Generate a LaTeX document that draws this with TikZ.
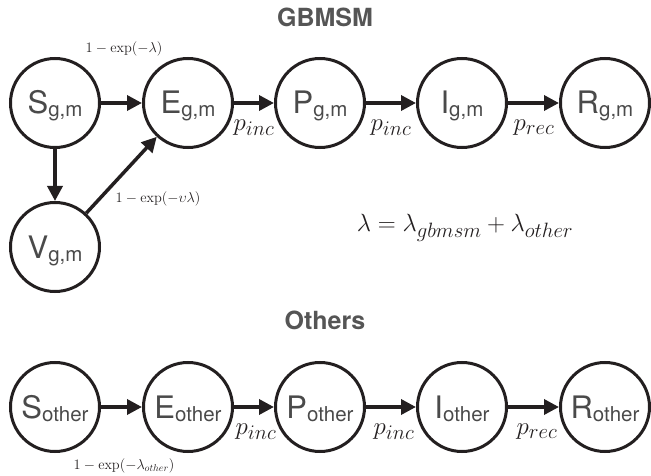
\documentclass[tikz,border=0pt]{standalone}
\usepackage{fontspec}
\newfontfamily\heros{TeX Gyre Heros}
\usetikzlibrary{arrows.meta}
\definecolor{ink}{HTML}{231F20}
\definecolor{txt}{HTML}{4A4A4A}
\definecolor{ttl}{HTML}{555555}
\newcommand{\comp}[2]{{\heros\fontsize{31}{31}\selectfont #1\raisebox{-3pt}{\fontsize{20.5}{20.5}\selectfont #2}}}
\begin{document}
\begin{tikzpicture}[x=1pt,y=-1pt,
 state/.style={circle,draw=ink,line width=3pt,minimum size=89pt,inner sep=0pt,text=txt,text height=22pt,text depth=0pt},
 flow/.style={draw=ink,line width=3.5pt,-{Triangle[length=15pt,width=15pt]}},
 small/.style={font=\fontsize{14.4}{15}\selectfont,text=ink,inner sep=0pt},
 big/.style={font=\fontsize{24.88}{25}\selectfont,text=ink,inner sep=0pt},
 title/.style={font=\heros\bfseries\fontsize{25}{25}\selectfont,text=ttl,inner sep=0pt}]
\useasboundingbox (0,0) rectangle (651,476);
% titles
\node[title] (t1) at (325,17) {GBMSM};
\node[title] (t2) at (325,320) {Others};
% top row
\node[state] (S) at (55,103) {\comp{S}{g,m}};
\node[state] (E) at (188,103) {\comp{E}{g,m}};
\node[state] (P) at (320,103) {\comp{P}{g,m}};
\node[state] (I) at (462,103) {\comp{I}{g,m}};
\node[state] (R) at (605,103) {\comp{R}{g,m}};
\node[state] (V) at (55,247) {\comp{V}{g,m}};
\draw[flow] (S) -- (E);
\draw[flow] (E) -- (P);
\draw[flow] (P) -- (I);
\draw[flow] (I) -- (R);
\draw[flow] (S) -- (V);
\draw[flow] (V) -- (E);
\node[small] (l1) at (124,49) {$1-\exp(-\lambda)$};
\node[small] (l2) at (158,199) {$1-\exp(-\upsilon\lambda)$};
\node[big] (l3) at (254,128) {$p_{inc}$};
\node[big] (l4) at (391,128) {$p_{inc}$};
\node[big] (l5) at (534,128) {$p_{rec}$};
\node[big] (eq) at (465,228) {$\lambda=\lambda_{gbmsm}+\lambda_{other}$};
% bottom row
\node[state] (So) at (55,407) {\comp{S}{other}};
\node[state] (Eo) at (188,407) {\comp{E}{other}};
\node[state] (Po) at (320,407) {\comp{P}{other}};
\node[state] (Io) at (462,407) {\comp{I}{other}};
\node[state] (Ro) at (605,407) {\comp{R}{other}};
\draw[flow] (So) -- (Eo);
\draw[flow] (Eo) -- (Po);
\draw[flow] (Po) -- (Io);
\draw[flow] (Io) -- (Ro);
\node[big] (m3) at (256,432) {$p_{inc}$};
\node[big] (m4) at (394,432) {$p_{inc}$};
\node[big] (m5) at (537,432) {$p_{rec}$};
\node[small] (m1) at (124,466) {$1-\exp(-\lambda_{other})$};
\end{tikzpicture}
\end{document}
